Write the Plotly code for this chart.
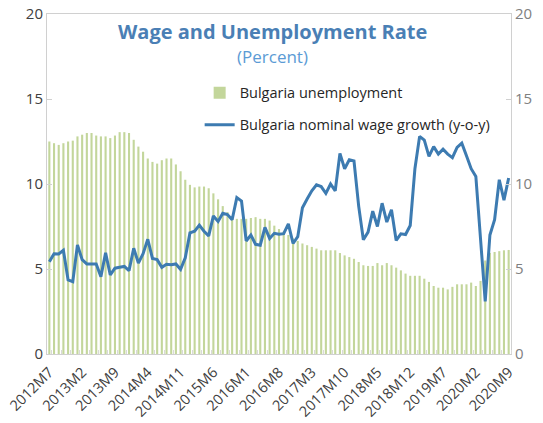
import plotly.graph_objects as go

# ---- data ----
start_year, start_month, n_months = 2012, 7, 99
months = []
y, m = start_year, start_month
for _ in range(n_months):
    months.append(f"{y}M{m}")
    m += 1
    if m > 12:
        m = 1
        y += 1

unemployment = [
    12.5, 12.4, 12.3, 12.4, 12.5, 12.55, 12.8, 12.9, 13.0, 13.0,
    12.85, 12.8, 12.8, 12.7, 12.85, 13.05, 13.05, 13.0, 12.6, 12.2,
    11.9, 11.5, 11.3, 11.2, 11.4, 11.5, 11.5, 11.15, 10.75, 10.25,
    9.95, 9.8, 9.85, 9.85, 9.75, 9.45, 9.1, 8.7, 8.35, 7.95,
    7.95, 7.95, 7.95, 8.0, 8.05, 7.95, 7.95, 7.85, 7.55, 7.35,
    7.2, 7.0, 6.8, 6.65, 6.5, 6.4, 6.3, 6.2, 6.1, 6.1,
    6.1, 6.1, 5.94, 5.8, 5.7, 5.6, 5.41, 5.22, 5.18, 5.18,
    5.35, 5.22, 5.35, 5.22, 5.08, 4.92, 4.73, 4.6, 4.6, 4.6,
    4.43, 4.24, 4.0, 3.9, 3.9, 3.8, 3.95, 4.1, 4.1, 4.1,
    4.2, 4.0, 4.3, 5.5, 5.95, 6.0, 6.05, 6.1, 6.12,
]

wage_growth = [
    5.42, 5.9, 5.88, 6.1, 4.36, 4.25, 6.42, 5.55, 5.3, 5.3,
    5.3, 4.55, 5.95, 4.65, 5.05, 5.1, 5.15, 4.9, 6.22, 5.35,
    5.9, 6.75, 5.62, 5.55, 5.1, 5.28, 5.25, 5.3, 4.98, 5.66,
    7.12, 7.22, 7.58, 7.22, 6.95, 8.12, 7.8, 8.28, 8.2, 7.9,
    9.2, 9.0, 6.65, 7.0, 6.45, 6.4, 7.45, 6.8, 7.1, 7.05,
    7.08, 7.66, 6.5, 6.9, 8.6, 9.12, 9.6, 9.95, 9.85, 9.45,
    10.0, 9.6, 11.8, 10.9, 11.42, 11.35, 8.7, 6.72, 7.17, 8.4,
    7.5, 8.87, 7.76, 8.48, 6.68, 7.07, 7.03, 7.56, 10.9, 12.8,
    12.58, 11.62, 12.2, 11.76, 12.05, 11.76, 11.55, 12.15, 12.4, 11.66,
    10.9, 10.45, 6.8, 3.1, 7.0, 7.9, 10.25, 9.05, 10.35,
]

tick_step = 7
tick_labels = [months[i] for i in range(0, n_months, tick_step)]
y_ticks = [0, 5, 10, 15, 20]

FONT = "Open Sans"
BAR_COLOR = "#c3d69b"
LINE_COLOR = "#3d7bb1"

idx = list(range(n_months))

fig = go.Figure()
fig.add_trace(go.Bar(
    x=idx, y=unemployment, name="Bulgaria unemployment",
    customdata=months, hovertemplate="%{customdata}: %{y}<extra></extra>",
    marker=dict(color=BAR_COLOR, line=dict(width=0)),
    legendgroup="a",
))
fig.add_trace(go.Scatter(
    x=idx, y=wage_growth, name="Bulgaria nominal wage growth (y-o-y)",
    customdata=months, hovertemplate="%{customdata}: %{y}<extra></extra>",
    mode="lines", line=dict(color=LINE_COLOR, width=3),
    yaxis="y2", legendgroup="b",
))

# page body has an 8px default margin, so margins are offset accordingly
fig.update_layout(
    width=543, height=423,
    margin=dict(l=39, r=40, t=6, b=77),
    paper_bgcolor="white", plot_bgcolor="white",
    font=dict(family=FONT, size=14, color="#404040"),
    bargap=0.55,
    showlegend=True,
    legend=dict(
        x=0.329, y=0.815, xanchor="left", yanchor="top",
        bgcolor="rgba(0,0,0,0)", font=dict(size=14.5, color="#262626"),
        traceorder="grouped", tracegroupgap=10, itemwidth=30,
    ),
    xaxis=dict(
        range=[-0.5, n_months - 0.5], automargin=False,
        tickmode="array", tickvals=list(range(0, n_months, tick_step)),
        ticktext=tick_labels, ticklabeloverflow="allow",
        ticklabelstandoff=3,
        tickangle=-45, tickfont=dict(size=14.5, color="#404040"),
        showline=True, linecolor="#d0d0d0", linewidth=1, mirror=True,
        showgrid=False, zeroline=False, ticks="",
        minor=dict(tick0=0.5, dtick=2, ticks="inside", ticklen=4,
                   tickcolor="#d9d9d9", showgrid=False),
    ),
    yaxis=dict(
        range=[0, 20], tickvals=y_ticks, showgrid=False, zeroline=False,
        showline=True, linecolor="#d0d0d0", linewidth=1, automargin=False,
        ticks="inside", ticklen=5, tickcolor="#d0d0d0",
        ticklabeloverflow="allow",
        tickfont=dict(size=15, color="#404040"),
    ),
    yaxis2=dict(
        range=[0, 20], tickvals=y_ticks, overlaying="y", side="right",
        showgrid=False, zeroline=False, showline=True, linecolor="#d0d0d0",
        ticks="inside", ticklen=5, tickcolor="#d0d0d0", automargin=False,
        ticklabeloverflow="allow",
        tickfont=dict(size=15, color="#808080"),
    ),
    annotations=[
        dict(text="<b>Wage and Unemployment Rate</b>", x=0.486, y=0.95,
             xref="paper", yref="paper", showarrow=False, yanchor="middle",
             font=dict(size=20, color="#4a7fb5", family=FONT)),
        dict(text="(Percent)", x=0.486, y=0.874, xref="paper", yref="paper",
             showarrow=False, yanchor="middle",
             font=dict(size=17, color="#5b9bd5", family=FONT)),
    ],
)

fig.write_html("out.html")
